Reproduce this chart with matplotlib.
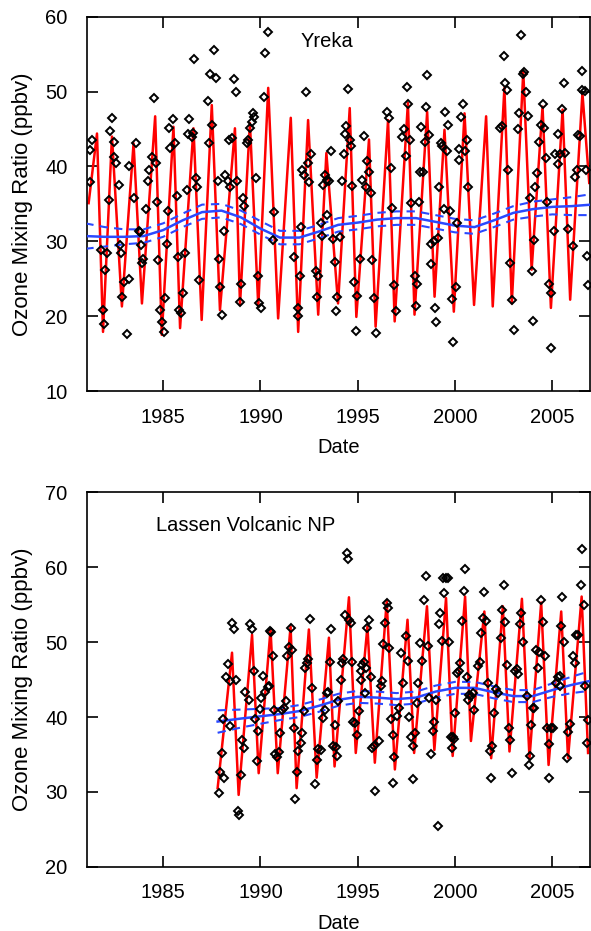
import matplotlib
matplotlib.use('Agg')
import matplotlib.pyplot as plt

plt.rcParams['font.family'] = ['Liberation Sans', 'DejaVu Sans']

# ---------------- Yreka ----------------
# monthly observations (decimal year, ppbv)
yreka_obs_year = [
    1981.22, 1981.34, 1981.22, 1981.80, 1981.91, 1981.94, 1982.03, 1982.11, 1982.20, 1982.25,
    1982.37, 1982.45, 1982.45, 1982.59, 1982.71, 1982.76, 1982.83, 1982.91, 1982.97, 1983.14,
    1983.22, 1983.27, 1983.51, 1983.62, 1983.74, 1983.79, 1983.85, 1983.91, 1983.99, 1984.13,
    1984.20, 1984.25, 1984.42, 1984.54, 1984.64, 1984.68, 1984.76, 1984.85, 1984.93, 1985.02,
    1985.10, 1985.19, 1985.27, 1985.32, 1985.36, 1985.53, 1985.62, 1985.70, 1985.74, 1985.84,
    1985.91, 1986.01, 1986.13, 1986.21, 1986.30, 1986.35, 1986.47, 1986.56, 1986.69, 1986.76,
    1986.86, 1986.59,
    1987.29, 1987.41, 1987.63, 1987.70, 1987.50, 1987.36, 1987.80, 1987.87, 1987.92, 1988.04,
    1988.15, 1988.18, 1988.32, 1988.44, 1988.38, 1988.52, 1988.66, 1988.73, 1988.78, 1988.95,
    1989.00, 1989.12, 1989.17, 1989.29, 1989.38, 1989.46, 1989.55, 1989.63, 1989.68, 1989.75,
    1989.85, 1989.92, 1990.03, 1990.20, 1990.26, 1990.37, 1990.66, 1990.71, 1991.74, 1991.91,
    1991.94, 1992.03, 1992.11, 1992.15, 1992.25, 1992.33, 1992.42, 1992.49, 1992.59, 1992.88,
    1992.97, 1992.93, 1993.10, 1993.17, 1993.22, 1993.34, 1993.44, 1993.51, 1993.62, 1993.44,
    1993.74, 1993.85, 1993.96, 1993.91,
    1994.11, 1994.21, 1994.28, 1994.33, 1994.42, 1994.50, 1994.59, 1994.68, 1994.73, 1994.79,
    1994.97, 1994.90, 1995.10, 1995.24, 1995.31, 1995.41, 1995.48, 1995.58, 1995.70, 1995.75,
    1995.82, 1995.96, 1996.53, 1996.63, 1996.70, 1996.75, 1996.87, 1996.98, 1997.27, 1997.39,
    1997.49, 1997.53, 1997.60, 1997.70, 1997.75, 1997.92, 1998.04, 1997.98, 1998.15, 1998.18,
    1998.27, 1998.35, 1998.44, 1998.52, 1998.56, 1998.66, 1998.78, 1998.78, 1998.90, 1998.95,
    1999.00, 1999.12, 1999.17, 1999.29, 1999.34, 1999.46, 1999.51, 1999.58, 1999.63, 1999.75,
    1999.85, 1999.92, 2000.03, 2000.09, 2000.20, 2000.32, 2000.40,
    2000.23, 2000.52, 2000.62, 2000.69, 2002.33, 2002.40, 2002.50, 2002.57, 2002.68, 2002.74,
    2002.85, 2002.92, 2003.02, 2003.22, 2003.31, 2003.39, 2003.48, 2003.53, 2003.65, 2003.77,
    2003.87, 2003.94, 2004.01, 2004.08, 2004.11, 2004.21, 2004.33, 2004.42, 2004.50, 2004.56,
    2004.67, 2004.72, 2004.85, 2004.96, 2004.93, 2005.07, 2005.14, 2005.27, 2005.31, 2005.41,
    2005.48, 2005.58, 2005.65, 2005.79, 2006.09, 2006.16, 2006.26, 2006.33, 2006.44, 2006.55,
    2006.55, 2006.67, 2006.73, 2006.81, 2006.85,
]
yreka_obs_ppbv = [
    42.2, 43.5, 37.9, 28.9, 20.8, 19.0, 26.2, 28.4, 35.5, 44.7,
    46.5, 43.3, 41.3, 40.4, 37.5, 29.5, 28.4, 22.5, 24.6, 17.6,
    24.9, 40.0, 35.8, 43.1, 31.4, 31.3, 29.5, 27.1, 27.7, 34.3,
    38.0, 39.5, 41.2, 49.1, 40.4, 35.2, 27.5, 20.8, 19.2, 17.9,
    22.4, 29.7, 34.1, 45.1, 42.5, 46.3, 43.1, 36.1, 27.9, 20.8,
    20.4, 23.1, 28.4, 36.9, 44.4, 46.4, 44.0, 44.5, 38.4, 37.3,
    24.8, 54.3,
    48.7, 52.4, 55.5, 51.8, 45.6, 43.1, 38.1, 27.7, 23.9, 20.2,
    31.4, 38.8, 38.0, 37.3, 43.6, 43.8, 51.7, 50.0, 38.1, 21.9,
    24.3, 35.8, 34.7, 43.2, 43.6, 45.2, 46.0, 47.2, 46.6, 38.4,
    25.3, 21.7, 21.1, 49.3, 55.1, 58.0, 30.2, 33.9, 27.9, 21.1,
    20.0, 25.4, 31.9, 39.5, 38.8, 49.9, 40.4, 37.9, 41.7, 26.0,
    25.3, 22.6, 32.4, 30.7, 37.5, 38.9, 38.2, 38.0, 42.0, 33.5,
    30.3, 27.2, 22.6, 20.7,
    30.6, 38.0, 41.7, 44.4, 45.4, 50.4, 43.6, 42.8, 37.4, 24.6,
    22.7, 18.0, 27.7, 38.2, 44.1, 37.3, 40.7, 39.3, 36.5, 27.5,
    22.4, 17.8, 47.3, 46.5, 39.8, 34.4, 24.2, 20.7, 43.9, 45.0,
    41.4, 50.6, 48.4, 43.6, 35.1, 25.4, 24.3, 21.4, 35.2, 39.2,
    45.3, 39.2, 43.3, 47.9, 52.2, 44.2, 29.7, 27.0, 30.0, 21.1,
    19.2, 30.4, 37.2, 43.1, 42.7, 34.3, 47.3, 42.0, 45.6, 34.0,
    22.3, 16.5, 23.9, 32.4, 40.8, 46.6, 48.4,
    42.3, 42.0, 43.5, 37.2, 45.2, 45.4, 54.8, 51.1, 50.2, 39.5,
    27.1, 22.2, 18.2, 45.0, 47.2, 57.6, 52.4, 52.6, 50.0, 46.8,
    35.8, 26.1, 19.4, 30.2, 37.3, 39.1, 43.3, 45.6, 48.3, 45.1,
    41.1, 35.2, 24.3, 23.1, 15.7, 31.4, 41.7, 44.4, 40.3, 41.7,
    47.7, 51.2, 41.8, 31.6, 29.4, 38.6, 39.5, 44.2, 44.1, 52.7,
    50.2, 50.1, 39.5, 28.0, 24.2,
]

# seasonal fit, summer maxima and winter minima
yreka_fit_year = [
    1981.17, 1981.60, 1981.91, 1982.37, 1982.88, 1983.48, 1983.91, 1984.59, 1984.93, 1985.53,
    1985.87, 1986.56, 1986.98, 1987.50, 1987.92, 1988.69, 1988.95, 1989.46, 1989.89, 1990.40,
    1990.91, 1991.56, 1991.94, 1992.45, 1992.97, 1993.39, 1993.99, 1994.59, 1994.93, 1995.58,
    1995.92, 1996.56, 1996.90, 1997.58, 1997.92, 1998.57, 1998.95, 1999.46, 1999.94, 2000.49,
    2000.98, 2001.60, 2001.94, 2002.54, 2002.92, 2003.51, 2003.94, 2004.50, 2004.93, 2005.53,
    2005.92, 2006.55, 2006.90,
]
yreka_fit_ppbv = [
    35.1, 44.4, 17.9, 44.0, 21.3, 43.1, 21.7, 46.7, 17.5, 45.3,
    18.4, 45.1, 19.5, 48.2, 20.8, 45.1, 21.5, 45.8, 21.3, 50.5,
    19.7, 46.5, 17.9, 46.2, 20.2, 41.8, 21.7, 47.8, 19.9, 43.6,
    18.6, 46.2, 19.3, 48.5, 20.2, 47.3, 22.6, 44.9, 20.6, 47.1,
    21.5, 46.7, 21.3, 50.5, 21.7, 52.7, 26.2, 48.0, 21.1, 47.6,
    22.2, 49.8, 37.8,
]

# long-term trend with confidence band
yreka_trend_year = list(range(1981, 2008))
yreka_trend_ppbv = [30.7, 30.6, 30.6, 30.7, 31.5, 32.8, 33.9, 34.1, 33.2, 31.7,
                    30.5, 30.5, 31.3, 32.2, 32.5, 32.9, 33.1, 33.1, 32.6, 32.1,
                    31.9, 32.8, 33.8, 34.3, 34.6, 34.7, 34.9]
yreka_trend_hi = [32.4, 31.9, 31.6, 31.6, 32.4, 33.7, 34.9, 35.0, 34.1, 32.7,
                  31.4, 31.4, 32.2, 33.1, 33.4, 33.8, 34.0, 34.0, 33.5, 33.0,
                  32.8, 33.7, 34.7, 35.3, 35.6, 35.9, 36.3]
yreka_trend_lo = [29.0, 29.3, 29.6, 29.8, 30.6, 31.9, 33.0, 33.2, 32.3, 30.9,
                  29.6, 29.6, 30.4, 31.3, 31.6, 32.0, 32.2, 32.2, 31.7, 31.2,
                  31.0, 31.9, 32.9, 33.3, 33.6, 33.5, 33.5]

# ---------------- Lassen Volcanic NP ----------------
lassen_obs_year = [
    1987.85, 1987.94, 1988.02, 1988.08, 1988.14, 1988.25, 1988.32, 1988.42, 1988.45, 1988.54,
    1988.63, 1988.76, 1988.83, 1988.88, 1989.00, 1989.05, 1989.14, 1989.23, 1989.40, 1989.45,
    1989.57, 1989.66, 1989.74, 1989.83, 1989.86, 1989.97, 1990.03, 1990.14, 1990.26, 1990.38,
    1990.43, 1990.48, 1990.55, 1990.65, 1990.72, 1990.77, 1990.86, 1990.95, 1991.03, 1991.12,
    1991.20, 1991.34, 1991.37, 1991.46, 1991.55, 1991.63, 1991.75, 1991.86, 1991.80, 1991.92,
    1992.06, 1992.15, 1992.23, 1992.27, 1992.37, 1992.44, 1992.54, 1992.66, 1992.78, 1992.89,
    1992.96,
    1993.09, 1993.23, 1993.30, 1993.40, 1993.47, 1993.57, 1993.64, 1993.75, 1993.81, 1993.87,
    1993.95, 1993.99, 1994.12, 1994.21, 1994.26, 1994.33, 1994.43, 1994.50, 1994.55, 1994.64,
    1994.73, 1994.78, 1994.85, 1994.95, 1995.07, 1995.15, 1995.19, 1995.24, 1995.33, 1995.41,
    1995.36, 1995.50, 1995.58, 1995.67, 1995.76, 1995.88, 1995.84, 1996.10, 1996.19, 1996.27,
    1996.32, 1996.39, 1996.49, 1996.56, 1996.63, 1996.70, 1996.79, 1996.87, 1996.79, 1997.01,
    1997.13, 1997.25, 1997.35, 1997.47, 1997.56, 1997.65, 1997.73, 1997.82, 1997.82, 1997.94,
    1998.04, 1998.11, 1998.21, 1998.33, 1998.42, 1998.51, 1998.59, 1998.68, 1998.76, 1998.85,
    1998.93, 1999.02, 1999.11, 1999.19, 1999.24, 1999.31, 1999.36, 1999.45, 1999.54, 1999.62,
    1999.71,
    1999.79, 1999.88, 1999.97, 1999.83, 2000.00, 2000.10, 2000.22, 2000.27, 2000.34, 2000.45,
    2000.52, 2000.62, 2000.65, 2000.74, 2000.82, 2000.91, 2000.99, 2001.17, 2001.31, 2001.34,
    2001.43, 2001.51, 2001.60, 2001.72, 2001.82, 2001.89, 2001.86, 2002.00, 2002.12, 2002.23,
    2002.34, 2002.41, 2002.51, 2002.58, 2002.68, 2002.80, 2002.85, 2002.92, 2003.09, 2003.20,
    2003.26, 2003.32, 2003.40, 2003.49, 2003.68, 2003.88, 2003.78, 2003.92, 2004.00, 2004.05,
    2004.18, 2004.26, 2004.30, 2004.40, 2004.52, 2004.64, 2004.74, 2004.81, 2004.81, 2004.95,
    2005.03, 2005.21, 2005.29, 2005.38, 2005.38, 2005.43, 2005.50, 2005.60, 2005.81, 2005.89,
    2005.77, 2006.07, 2006.15, 2006.24, 2006.32, 2006.46, 2006.53, 2006.63, 2006.70, 2006.84,
    2006.80,
]
lassen_obs_ppbv = [
    29.9, 32.7, 35.2, 39.7, 31.8, 45.4, 47.1, 38.8, 44.8, 52.6,
    51.7, 44.9, 27.4, 26.9, 32.3, 37.0, 35.8, 43.3, 42.3, 52.4,
    51.8, 46.1, 39.7, 34.1, 38.2, 41.1, 42.5, 45.5, 43.3, 44.0,
    44.2, 51.5, 51.3, 48.2, 41.0, 35.0, 34.6, 35.3, 37.9, 41.0,
    41.2, 42.1, 48.1, 49.4, 51.9, 49.0, 38.5, 32.7, 29.0, 35.4,
    36.6, 37.9, 40.8, 46.6, 47.2, 47.7, 53.1, 43.9, 31.1, 34.3,
    35.7,
    35.6, 39.9, 41.0, 43.2, 43.3, 47.3, 51.7, 36.1, 38.9, 36.0,
    34.8, 42.2, 44.9, 47.2, 47.8, 53.6, 61.9, 61.1, 53.0, 52.5,
    47.3, 39.4, 39.2, 37.6, 40.8, 44.9, 46.1, 47.0, 47.3, 46.6,
    43.2, 51.9, 52.9, 45.4, 35.9, 30.1, 36.1, 36.8, 44.1, 44.8,
    49.7, 52.6, 55.3, 54.6, 49.2, 39.7, 37.6, 34.6, 31.2, 40.1,
    41.2, 48.5, 44.5, 50.8, 47.5, 40.0, 37.4, 36.1, 31.7, 37.9,
    41.9, 44.6, 49.9, 47.5, 55.7, 58.9, 49.5, 42.5, 35.0, 38.2,
    39.4, 42.3, 25.4, 52.4, 53.9, 50.1, 58.6, 56.6, 58.6, 58.6,
    50.0,
    37.3, 37.4, 37.1, 35.9, 40.5, 45.9, 46.2, 47.2, 52.8, 56.9,
    59.8, 45.4, 42.3, 43.0, 42.8, 43.2, 40.9, 46.8, 47.4, 51.2,
    53.2, 56.7, 52.8, 44.5, 35.4, 36.2, 31.9, 40.5, 43.7, 43.2,
    50.6, 54.3, 57.7, 52.7, 46.9, 38.5, 36.9, 32.5, 46.2, 46.4,
    45.7, 52.4, 53.9, 50.0, 42.8, 34.8, 33.6, 38.9, 41.2, 41.2,
    49.0, 46.6, 48.7, 55.7, 52.7, 48.1, 38.5, 36.4, 31.9, 38.5,
    38.5, 44.6, 45.4, 45.5, 44.1, 52.2, 56.1, 50.0, 38.0, 39.1,
    34.5, 48.2, 47.2, 50.9, 50.9, 57.6, 62.5, 55.0, 44.1, 39.6,
    36.6,
]

lassen_fit_year = [
    1987.80, 1988.54, 1988.88, 1989.57, 1989.91, 1990.52, 1990.89, 1991.55, 1991.86, 1992.49,
    1992.89, 1993.52, 1993.81, 1994.55, 1994.90, 1995.50, 1995.88, 1996.49, 1996.91, 1997.56,
    1997.90, 1998.56, 1998.94, 1999.54, 1999.88, 2000.52, 2000.82, 2001.51, 2001.86, 2002.46,
    2002.80, 2003.44, 2003.83, 2004.43, 2004.81, 2005.46, 2005.81, 2006.51, 2006.84,
]
lassen_fit_ppbv = [
    30.5, 48.6, 29.6, 51.0, 32.5, 51.7, 32.5, 52.1, 30.5, 51.7,
    31.9, 50.6, 33.4, 56.0, 35.2, 52.1, 33.9, 55.5, 33.0, 53.0,
    35.2, 54.8, 35.6, 55.9, 34.8, 56.1, 36.8, 54.1, 34.5, 54.8,
    35.4, 55.8, 34.5, 55.3, 33.6, 54.1, 34.5, 56.1, 35.2,
]

lassen_trend_year = [1987.8, 1989, 1990, 1991, 1992, 1993, 1994, 1995, 1996, 1997,
                     1998, 1999, 2000, 2001, 2002, 2003, 2004, 2005, 2006, 2006.9]
lassen_trend_ppbv = [39.4, 39.8, 40.1, 40.4, 40.8, 41.5, 42.3, 42.7, 42.6, 42.4,
                     42.6, 43.4, 43.9, 43.9, 43.3, 42.8, 42.8, 43.6, 44.3, 44.8]
lassen_trend_hi = [40.9, 41.0, 41.1, 41.2, 41.6, 42.3, 43.1, 43.5, 43.4, 43.2,
                   43.4, 44.2, 44.7, 44.7, 44.1, 43.6, 43.6, 44.5, 45.4, 46.1]
lassen_trend_lo = [37.9, 38.6, 39.1, 39.6, 40.0, 40.7, 41.5, 41.9, 41.8, 41.6,
                   41.8, 42.6, 43.1, 43.1, 42.5, 42.0, 42.0, 42.7, 43.2, 43.5]

year_ticks = [1985, 1990, 1995, 2000, 2005]

panels = [
    dict(name='Yreka', obs=(yreka_obs_year, yreka_obs_ppbv), fit=(yreka_fit_year, yreka_fit_ppbv),
         trend=(yreka_trend_year, yreka_trend_ppbv, yreka_trend_hi, yreka_trend_lo),
         ylim=(10, 60), yticks=[10, 20, 30, 40, 50, 60], label_xy=(0.477, 0.935),
         rect=[0.147, 0.580, 0.851, 0.402]),
    dict(name='Lassen Volcanic NP', obs=(lassen_obs_year, lassen_obs_ppbv),
         fit=(lassen_fit_year, lassen_fit_ppbv),
         trend=(lassen_trend_year, lassen_trend_ppbv, lassen_trend_hi, lassen_trend_lo),
         ylim=(20, 70), yticks=[20, 30, 40, 50, 60, 70], label_xy=(0.315, 0.912),
         rect=[0.147, 0.069, 0.851, 0.402]),
]

blue = '#2a48ff'

fig = plt.figure(figsize=(5.91, 9.31), dpi=100)
for p in panels:
    ax = fig.add_axes(p['rect'])
    ty, tv, thi, tlo = p['trend']
    ax.plot(p['fit'][0], p['fit'][1], color='#ff0000', lw=1.8, zorder=2)
    ax.plot(ty, tv, color=blue, lw=1.8, zorder=3)
    ax.plot(ty, thi, color=blue, lw=1.5, ls=(0, (4, 3)), zorder=3)
    ax.plot(ty, tlo, color=blue, lw=1.5, ls=(0, (4, 3)), zorder=3)
    ax.plot(p['obs'][0], p['obs'][1], ls='none', marker='D', ms=3.6, mfc='none',
            mec='black', mew=1.4, zorder=4)

    ax.set_xlim(1981.08, 2006.93)
    ax.set_ylim(*p['ylim'])
    ax.set_xticks(year_ticks)
    ax.set_yticks(p['yticks'])
    ax.tick_params(direction='in', length=8, width=1.2, top=True, right=True,
                   labelsize=14.5, colors='black')
    ax.tick_params(axis='x', pad=12)
    ax.tick_params(axis='y', pad=14)
    for s in ax.spines.values():
        s.set_linewidth(1.2)
    ax.set_xlabel('Date', fontsize=14.5, labelpad=8)
    ax.set_ylabel('Ozone Mixing Ratio (ppbv)', fontsize=16)
    ax.yaxis.set_label_coords(-0.108, 0.5)
    ax.text(p['label_xy'][0], p['label_xy'][1], p['name'], transform=ax.transAxes,
            ha='center', va='center', fontsize=14.5)

fig.savefig('out.png', dpi=100)
